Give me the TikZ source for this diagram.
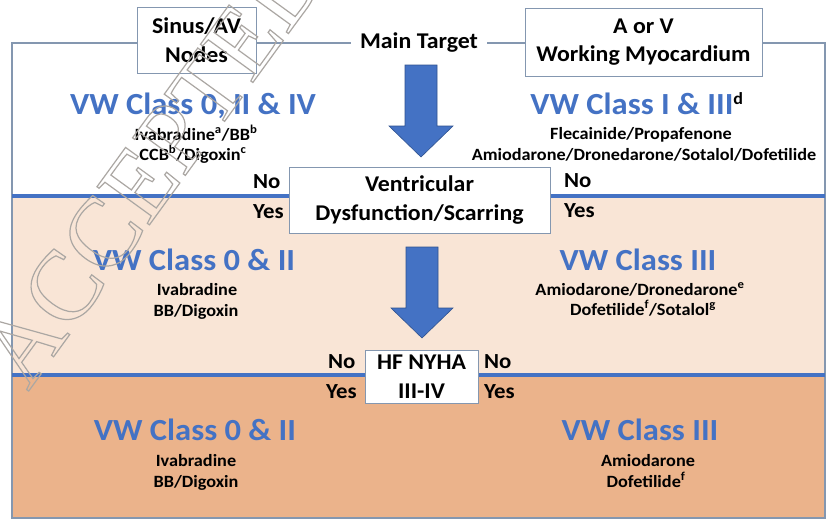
\documentclass[tikz,border=0pt]{standalone}
\usepackage{fontspec}
\setmainfont{Carlito}[FakeStretch=1.06]
\newfontfamily\wmfont{Liberation Serif}
\definecolor{vwblue}{HTML}{4472C4}
\definecolor{arrowedge}{HTML}{2F528F}
\definecolor{framegray}{HTML}{8497B0}
\definecolor{peach}{HTML}{F9E5D6}
\definecolor{tanfill}{HTML}{EBB38B}
\definecolor{wmgray}{HTML}{ABA7A3}
\begin{document}
\begin{tikzpicture}[x=1pt,y=-1pt,
  head/.style={font=\bfseries\fontsize{30.7}{30.7}\selectfont, text=vwblue, anchor=base, inner sep=0pt},
  drug/.style={font=\bfseries\fontsize{17.2}{17.2}\selectfont, anchor=base, inner sep=0pt},
  yn/.style={font=\bfseries\fontsize{21.5}{21.5}\selectfont, anchor=base west, inner sep=0pt},
  lbox/.style={draw=framegray, line width=1pt, fill=white, font=\bfseries\fontsize{22.5}{28.5}\selectfont, align=center, inner sep=0pt},
  sepline/.style={draw=vwblue, line width=4pt},
  bigarrow/.style={fill=vwblue, draw=arrowedge, line width=0.6pt}
]
\useasboundingbox (0,0) rectangle (832,525);
\fill[white] (0,0) rectangle (832,525);
% sections
\fill[white] (12,43) rectangle (825,195.5);
\fill[peach] (12,195.5) rectangle (825,375);
\fill[tanfill] (12,375) rectangle (825,518);
\draw[framegray, line width=1.2pt] (12,43) rectangle (825,518);
\draw[sepline] (12,195.5) -- (825,195.5);
\draw[sepline] (12,375) -- (825,375);

% arrows
\draw[bigarrow] (405,65) -- (437,65) -- (437,126) -- (453,126) -- (421,157) -- (389,126) -- (405,126) -- cycle;
\draw[bigarrow] (406,247) -- (438,247) -- (438,308) -- (453,308) -- (422,338) -- (391,308) -- (406,308) -- cycle;

% boxes
\node[lbox, minimum width=119pt, minimum height=66pt] (sinus) at (196.5,40) {Sinus/AV\\Nodes};
\node[lbox, minimum width=237pt, minimum height=68pt] (aorv) at (643.5,42) {A or V\\Working Myocardium};
\node[fill=white, inner xsep=9pt, inner ysep=2pt, font=\bfseries\fontsize{22.5}{22.5}\selectfont, anchor=base] (main) at (419,48) {Main Target};
\node[lbox, minimum width=261pt, minimum height=66pt] (vent) at (419.5,200) {Ventricular\\Dysfunction/Scarring};
\node[lbox, minimum width=113pt, minimum height=53pt] (hf) at (421.5,376.5) {HF NYHA\\III-IV};

% top section
\node[head] (h1l) at (193,114) {VW Class 0, II \& IV};
\node[drug] (d1a) at (196,140) {Ivabradine\textsuperscript{a}/BB\textsuperscript{b}};
\node[drug] (d1b) at (193,160) {CCB\textsuperscript{b}/Digoxin\textsuperscript{c}};
\node[head] (h1r) at (637,114) {VW Class I \& III\textsuperscript{\color{black}\fontsize{17}{17}\selectfont d}};
\node[drug] (d1c) at (641,139) {Flecainide/Propafenone};
\node[drug] (d1d) at (644,160) {Amiodarone/Dronedarone/Sotalol/Dofetilide};
\node[yn] (no1) at (253,188) {No};
\node[yn] (yes1) at (253,218) {Yes};
\node[yn] (no2) at (564,187) {No};
\node[yn] (yes2) at (564,217) {Yes};

% middle section
\node[head] (h2l) at (194,270) {VW Class 0 \& II};
\node[drug] (d2a) at (197,295) {Ivabradine};
\node[drug] (d2b) at (196,316) {BB/Digoxin};
\node[head] (h2r) at (638,270) {VW Class III};
\node[drug] (d2c) at (640,295) {Amiodarone/Dronedarone\textsuperscript{e}};
\node[drug] (d2d) at (643,315) {Dofetilide\textsuperscript{f}/Sotalol\textsuperscript{g}};
\node[yn] (no3) at (328,368) {No};
\node[yn] (yes3) at (326,398) {Yes};
\node[yn] (no4) at (484,368) {No};
\node[yn] (yes4) at (484,398) {Yes};

% bottom section
\node[head] (h3l) at (195,440) {VW Class 0 \& II};
\node[drug] (d3a) at (196,466) {Ivabradine};
\node[drug] (d3b) at (196,487) {BB/Digoxin};
\node[head] (h3r) at (640,440) {VW Class III};
\node[drug] (d3c) at (648,466) {Amiodarone};
\node[drug] (d3d) at (646,487) {Dofetilide\textsuperscript{f}};

% watermark
\node[anchor=base west, rotate=54, inner sep=0pt, text=wmgray, font=\wmfont\fontsize{99}{99}\selectfont] (wm) at (28,392)
  {\special{pdf:literal direct 1 Tr 1.2 w}ACCEPTED\special{pdf:literal direct 0 Tr}};
\end{tikzpicture}
\end{document}
